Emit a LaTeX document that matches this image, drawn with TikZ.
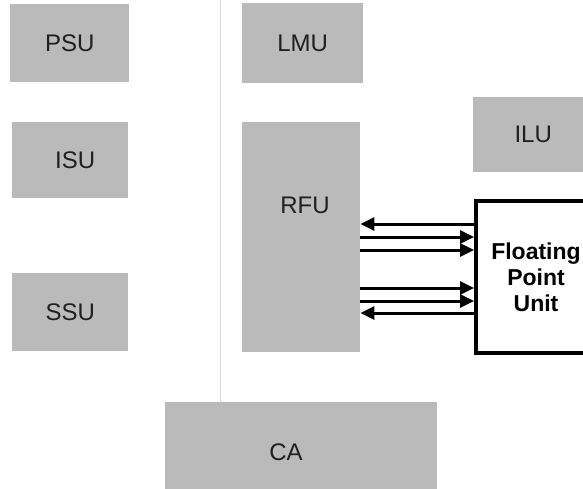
\documentclass[tikz,border=0pt]{standalone}
\usepackage{fontspec}
\setmainfont{Liberation Sans}
\usetikzlibrary{arrows.meta,positioning}

\tikzset{
  unit/.style={fill=black!27,text=black!88,inner sep=0pt,anchor=north west,
    font=\fontsize{24}{26}\selectfont},
  unitlbl/.style={text=black!88,inner sep=0pt,font=\fontsize{24}{26}\selectfont},
  fpu/.style={draw,line width=4pt,fill=white,inner sep=0pt,anchor=north west,
    align=center,font=\fontsize{23}{26}\selectfont\bfseries},
  bus/.style={line width=3pt,-{Triangle[length=14pt,width=13pt]}},
}

\begin{document}
\begin{tikzpicture}[x=1pt,y=-1pt]
\useasboundingbox (0,0) rectangle (583,489);
\clip (0,0) rectangle (583,489);
\draw[black!14,line width=1pt] (220,0) -- (220,489);
% units
\node[unit,minimum width=119,minimum height=78] (psu) at (10,4) {PSU};
\node[unit,minimum width=121,minimum height=80] (lmu) at (242,3) {LMU};
\node[unit,minimum width=116,minimum height=76] (isu) at (12,122) {\hspace{10pt}ISU};
\node[unit,minimum width=116,minimum height=78] (ssu) at (12,273) {SSU};
\node[unit,minimum width=118,minimum height=230] (rfu) at (242,122) {};
\node[unitlbl] (rfulbl) at (305,205) {RFU};
\node[unit,minimum width=120,minimum height=75] (ilu) at (473,97) {ILU};
\node[unit,minimum width=272,minimum height=95] (ca) at (165,402) {};
\node[unitlbl] (calbl) at (286,452) {CA};
% floating point unit
\node[fpu,minimum width=120,minimum height=152] (fp) at (474,199) {Floating\\Point\\Unit};
% buses
\draw[bus] (fp.west |- 0,224) -- (rfu.east |- 0,224);
\draw[bus] (rfu.east |- 0,237) -- (fp.west |- 0,237);
\draw[bus] (rfu.east |- 0,250) -- (fp.west |- 0,250);
\draw[bus] (rfu.east |- 0,288) -- (fp.west |- 0,288);
\draw[bus] (rfu.east |- 0,301) -- (fp.west |- 0,301);
\draw[bus] (fp.west |- 0,313) -- (rfu.east |- 0,313);
\end{tikzpicture}
\end{document}
